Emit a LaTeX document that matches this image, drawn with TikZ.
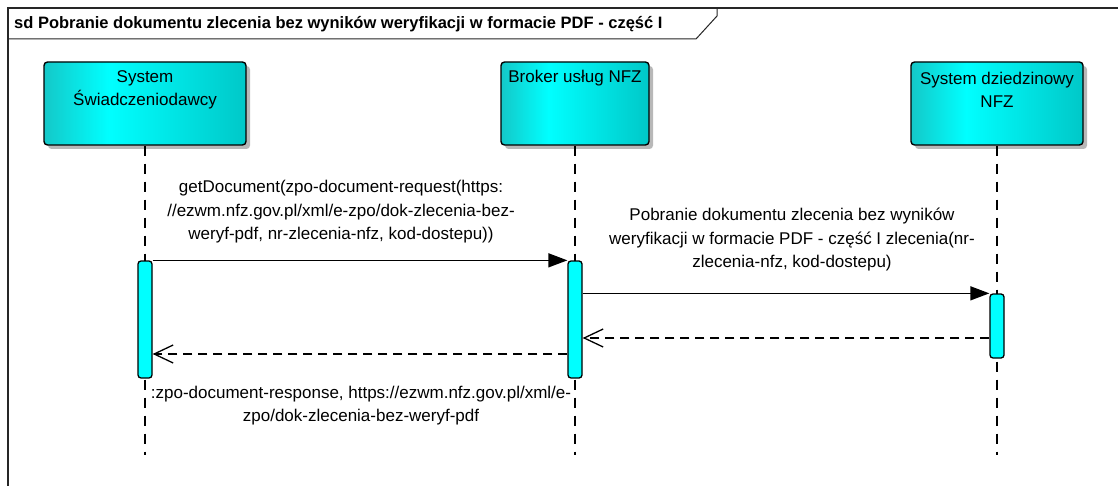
\documentclass[tikz,border=0pt]{standalone}
\usepackage{fontspec}
\setmainfont{Liberation Sans}
\usetikzlibrary{arrows.meta,shadows,calc}
\definecolor{cL}{RGB}{20,200,200}
\definecolor{cM}{RGB}{0,255,255}
\definecolor{cR}{RGB}{0,200,200}
\definecolor{barc}{RGB}{0,255,255}
\pgfdeclarehorizontalshading{lifebox}{100bp}{color(0bp)=(cL); color(25bp)=(cL); color(41bp)=(cM); color(75bp)=(cR); color(100bp)=(cR)}
\tikzset{
  frameline/.style={line width=1.3pt, draw=black!85},
  lbox/.style={draw=black, line width=1.4pt, rounded corners=3.5pt, shading=lifebox,
     drop shadow={shadow xshift=4pt, shadow yshift=-4pt, fill=black!28, opacity=1, rounded corners=3.5pt}},
  ltext/.style={align=center, font=\fontsize{17}{23}\selectfont, inner sep=0pt},
  msgtext/.style={align=center, font=\fontsize{17}{23.5}\selectfont, inner sep=0pt},
  lifeline/.style={line width=1.2pt, dash pattern=on 10pt off 8pt},
  actbar/.style={draw=black, line width=1.3pt, fill=barc, rounded corners=3pt, minimum width=14pt, inner sep=0pt},
  msg/.style={line width=1.4pt, -{Triangle[length=19pt,width=14pt]}},
  ret/.style={line width=1.4pt, dash pattern=on 9pt off 6pt, -{Straight Barb[length=19pt,width=18pt,line width=1.3pt]}}
}
\begin{document}
\begin{tikzpicture}[x=1pt,y=-1pt]
\useasboundingbox (0,0) rectangle (1118,486);
\fill[white] (0,0) rectangle (1118,486);
% frame
\draw[frameline] (1118,8) -- (8,8) -- (8,486);
\draw[line width=1pt, draw=black!85] (8,39) -- (696,39) -- (717,16) -- (717,8);
\node[anchor=west, inner sep=0pt, font=\bfseries\fontsize{16.5}{19}\selectfont] (title) at (14,24) {sd Pobranie dokumentu zlecenia bez wyników weryfikacji w formacie PDF - część I};
% lifeline heads
\node[lbox, minimum width=202pt, minimum height=83pt] (h1) at (145,103.5) {};
\node[lbox, minimum width=148pt, minimum height=83pt] (h2) at (575,103.5) {};
\node[lbox, minimum width=172pt, minimum height=83pt] (h3) at (997,103.5) {};
\node[ltext] (t1) at (145,89.5) {System\\Świadczeniodawcy};
\node[ltext] (t2) at (575,78) {Broker usług NFZ};
\node[ltext] (t3) at (997,89.5) {System dziedzinowy\\NFZ};
% lifelines
\coordinate (e1) at (145,455);
\coordinate (e2) at (575,455);
\coordinate (e3) at (997,455);
\draw[lifeline] (h1.south) -- (e1);
\draw[lifeline] (h2.south) -- (e2);
\draw[lifeline] (h3.south) -- (e3);
% activation bars
\node[actbar, minimum height=117pt] (b1) at (145,319.5) {};
\node[actbar, minimum height=117pt] (b2) at (575,319.5) {};
\node[actbar, minimum height=64pt] (b3) at (997,326) {};
% messages
\draw[msg] (b1.north east) -- (b2.north west);
\node[msgtext] (m1) at (341,212) {getDocument(zpo-document-request(https:\\//ezwm.nfz.gov.pl/xml/e-zpo/dok-zlecenia-bez-\\weryf-pdf, nr-zlecenia-nfz, kod-dostepu))};
\draw[msg] (b3.north west -| b2.east) -- (b3.north west);
\node[msgtext] (m2) at (792,240) {Pobranie dokumentu zlecenia bez wyników\\weryfikacji w formacie PDF - część I zlecenia(nr-\\zlecenia-nfz, kod-dostepu)};
\coordinate (r1s) at ($(b3.west)+(0,12)$);
\draw[ret] (r1s) -- (r1s -| b2.east);
\coordinate (r2s) at ($(b2.west)+(0,34.5)$);
\draw[ret] (r2s) -- (r2s -| b1.east);
\node[msgtext] (m3) at (361,405.5) {:zpo-document-response, https://ezwm.nfz.gov.pl/xml/e-\\zpo/dok-zlecenia-bez-weryf-pdf};
\end{tikzpicture}
\end{document}
